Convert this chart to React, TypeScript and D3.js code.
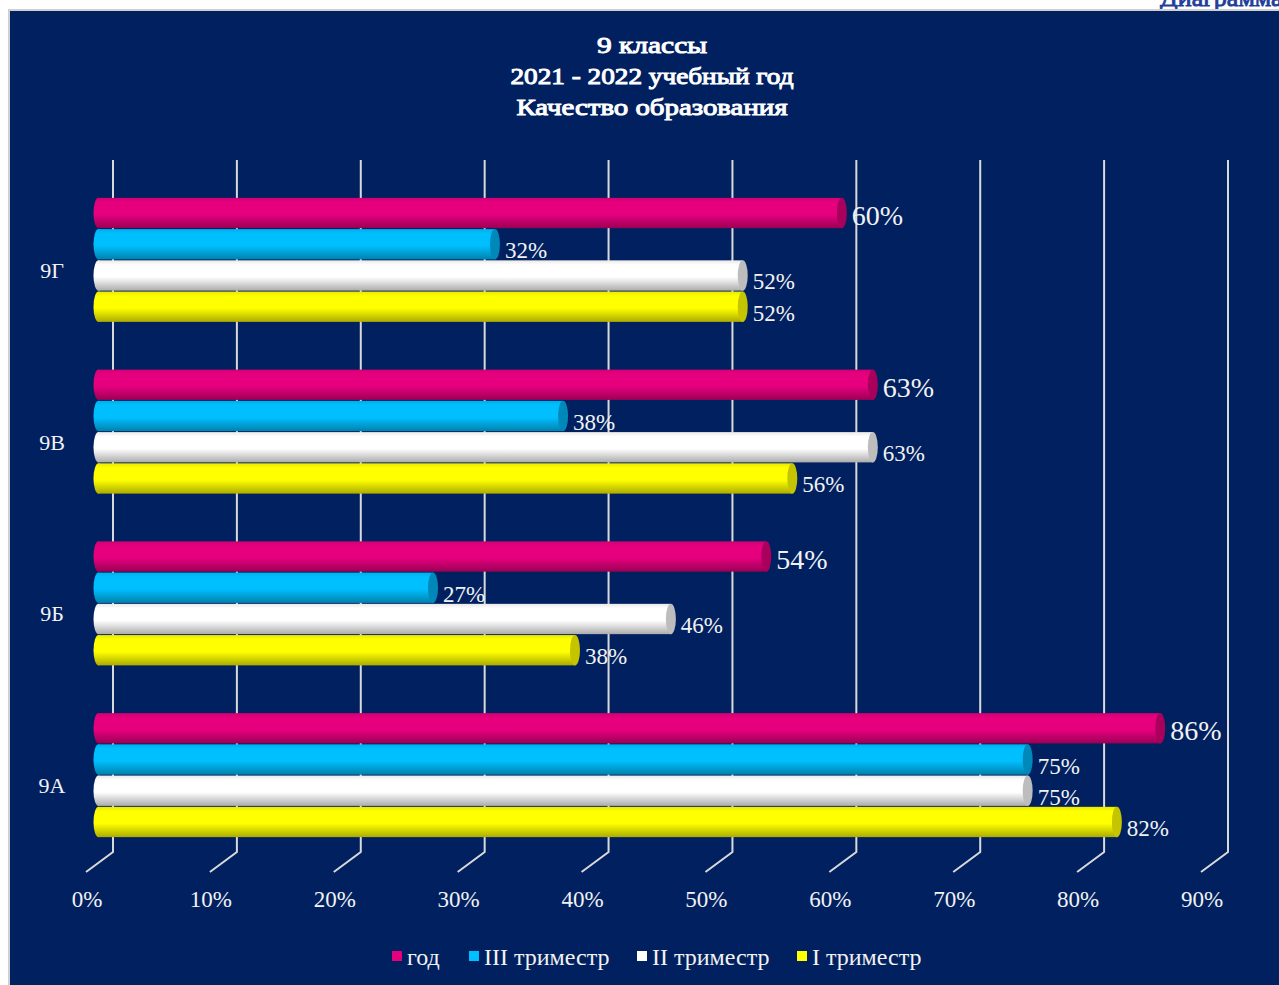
import React from "react";
import * as d3 from "d3";

const categories = ["9Г", "9В", "9Б", "9А"];
const seriesNames = ["год", "III триместр", "II триместр", "I триместр"];
const godValues = [60, 62.5, 53.9, 85.7];
const tri3Values = [32, 37.5, 27, 75];
const tri2Values = [52, 62.5, 46.2, 75];
const tri1Values = [52, 56, 38.46, 82.2];
const tickValues = [0, 10, 20, 30, 40, 50, 60, 70, 80, 90];
const titleLines = ["9 классы", "2021 - 2022 учебный год", "Качество образования"];
const titleWidths = [110, 283, 271];

const seriesValues = [godValues, tri3Values, tri2Values, tri1Values];
const seriesColors = ["#E6007E", "#00BFFF", "#FFFFFF", "#FFFF00"];
const capColors = ["#A8005C", "#0088BB", "#BDBDBD", "#C4C400"];

const W = 1279;
const H = 985;
const BG = "#002060";
const FONT = "'Liberation Serif', 'Times New Roman', serif";
const GRID = "#D9D9D9";
const DEPTH_X = 27;
const DEPTH_Y = 20;

export default function App() {
  const xBack = d3.scaleLinear().domain([0, 90]).range([113, 1228]);
  const xBar = (v: number) => xBack(v) - DEPTH_X / 2 - 1;
  const xFront = (v: number) => xBack(v) - DEPTH_X;
  const plotTop = 160;
  const plotBottom = 852;
  const fmt = (v: number) => `${v.toFixed(0)}%`;

  const y0 = d3
    .scaleBand<string>()
    .domain(categories)
    .range([174, 861])
    .paddingInner(0.278)
    .paddingOuter(0.139);
  const y1 = d3
    .scaleBand<string>()
    .domain(seriesNames)
    .range([0, y0.bandwidth()])
    .paddingInner(0.03);
  const bh = y1.bandwidth();
  const rx = 5;

  return (
    <svg
      width={W}
      height={H}
      style={{ position: "absolute", left: 0, top: 0, display: "block" }}
    >
      <defs>
        {seriesColors.map((c, i) => {
          const col = d3.color(c)!;
          return (
            <linearGradient key={i} id={`g${i}`} x1="0" y1="0" x2="0" y2="1">
              <stop offset="0" stopColor={col.darker(0.25).formatHex()} />
              <stop offset="0.15" stopColor={c} />
              <stop offset="0.55" stopColor={c} />
              <stop offset="1" stopColor={col.darker(1.1).formatHex()} />
            </linearGradient>
          );
        })}
      </defs>
      <rect x={0} y={0} width={W} height={H} fill="#FFFFFF" />
      <text
        x={1160}
        y={6}
        fontFamily={FONT}
        fontSize={26}
        fill="#1F3D99"
        stroke="#1F3D99"
        strokeWidth={0.9}
      >
        Диаграмма
      </text>
      <rect x={8} y={9} width={W - 8} height={H - 9} fill="#D0D0D0" />
      <rect x={10} y={11} width={W - 10} height={H - 11} fill={BG} />

      {titleLines.map((t, i) => (
        <text
          key={i}
          x={652}
          y={53 + i * 31}
          textAnchor="middle"
          fontFamily={FONT}
          fontSize={24}
          fill="#FFFFFF"
          stroke="#FFFFFF"
          strokeWidth={1}
          textLength={titleWidths[i]}
          lengthAdjust="spacingAndGlyphs"
        >
          {t}
        </text>
      ))}

      {tickValues.map((t) => (
        <g key={t}>
          <polyline
            points={`${xBack(t)},${plotTop} ${xBack(t)},${plotBottom} ${xFront(t)},${plotBottom + DEPTH_Y}`}
            fill="none"
            stroke={GRID}
            strokeWidth={2}
          />
          <text
            x={xFront(t) + 1}
            y={907}
            textAnchor="middle"
            fontFamily={FONT}
            fontSize={23}
            fill="#F2F2F2"
          >
            {t}%
          </text>
        </g>
      ))}

      {categories.map((cat, ci) => (
        <g key={cat}>
          <text
            x={52}
            y={(y0(cat) ?? 0) + y0.bandwidth() / 2 + 18}
            textAnchor="middle"
            fontFamily={FONT}
            fontSize={22}
            fill="#F2F2F2"
          >
            {cat}
          </text>
          {seriesNames.map((s, si) => {
            const v = seriesValues[si][ci];
            const yTop = (y0(cat) ?? 0) + (y1(s) ?? 0);
            const x0 = xBar(0);
            const x1 = xBar(v);
            const cy = yTop + bh / 2;
            const big = si === 0;
            return (
              <g key={s}>
                <ellipse cx={x0} cy={cy} rx={rx} ry={bh / 2} fill={`url(#g${si})`} />
                <rect x={x0} y={yTop} width={x1 - x0} height={bh} fill={`url(#g${si})`} />
                <ellipse cx={x1} cy={cy} rx={rx} ry={bh / 2} fill={capColors[si]} />
                <text
                  x={x1 + 10}
                  y={cy + (big ? 12 : 14)}
                  fontFamily={FONT}
                  fontSize={big ? 28 : 23}
                  fill="#F2F2F2"
                >
                  {fmt(v)}
                </text>
              </g>
            );
          })}
        </g>
      ))}

      {seriesNames.map((s, si) => {
        const xs = [392, 469, 637, 797][si];
        return (
          <g key={s}>
            <rect x={xs} y={951} width={10} height={10} fill={seriesColors[si]} />
            <text
              x={xs + 15}
              y={965}
              fontFamily={FONT}
              fontSize={24}
              fill="#F2F2F2"
            >
              {s}
            </text>
          </g>
        );
      })}
    </svg>
  );
}
